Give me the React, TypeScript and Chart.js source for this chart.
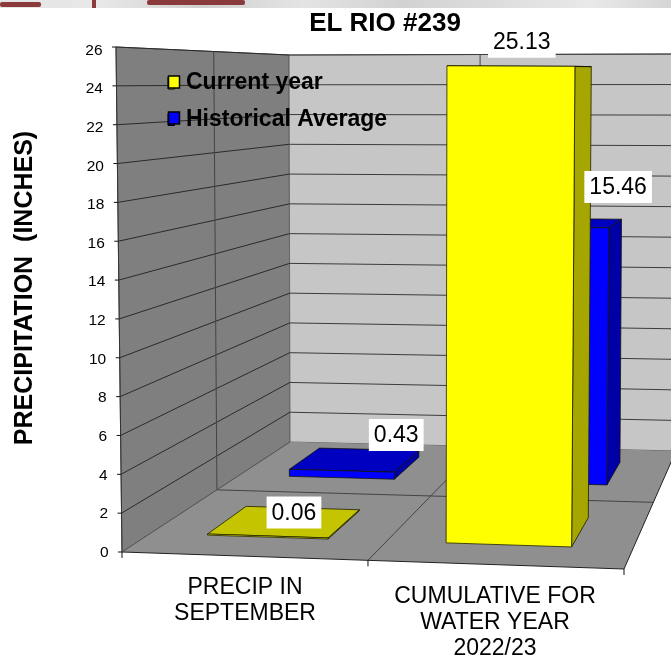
import React, { useEffect, useRef } from "react";
import { Chart, registerables, BarController } from "chart.js";

const categories = [["PRECIP IN", "SEPTEMBER"], ["CUMULATIVE FOR", "WATER YEAR", "2022/23"]];
const currentYear = [0.06, 25.13];
const historicalAverage = [0.43, 15.46];
const seriesNames = ["Current year", "Historical Average"];
const chartTitle = "EL RIO #239";
const yAxisTitle = "PRECIPITATION  (INCHES)";
const yMax = 26;
const yStep = 2;

// Projection of the 3D plot box: [x, y] of each corner
const FLB = [122, 552], FRB = [624, 569], BLB = [290, 442], BRB = [676, 451];
const FLT = [116, 47], FRT = [629, 49], BLT = [289, 55], BRT = [679, 54];
const MID_DEPTH = 0.565;
const MID_WIDTH = 0.49;

const lerp = (a: number, b: number, t: number) => a + (b - a) * t;
const bil = (a: number[], b: number[], c: number[], d: number[], u: number, w: number) => [
  lerp(lerp(a[0], b[0], u), lerp(c[0], d[0], u), w),
  lerp(lerp(a[1], b[1], u), lerp(c[1], d[1], u), w),
];
const project = (u: number, d: number, v: number) => {
  const b = bil(FLB, FRB, BLB, BRB, u, d);
  const t = bil(FLT, FRT, BLT, BRT, u, d);
  return [lerp(b[0], t[0], v / yMax), lerp(b[1], t[1], v / yMax)];
};
const warpU = (u: number) => (u * 0.96) / (1 - u + u * 0.96);

function poly(ctx: any, pts: number[][], fill: string | null, stroke: string | null, lw = 1) {
  ctx.beginPath();
  pts.forEach((p, i) => (i ? ctx.lineTo(p[0], p[1]) : ctx.moveTo(p[0], p[1])));
  ctx.closePath();
  if (fill) { ctx.fillStyle = fill; ctx.fill(); }
  if (stroke) { ctx.strokeStyle = stroke; ctx.lineWidth = lw; ctx.stroke(); }
}
function seg(ctx: any, a: number[], b: number[], stroke: string, lw = 1) {
  ctx.beginPath();
  ctx.moveTo(a[0], a[1]);
  ctx.lineTo(b[0], b[1]);
  ctx.strokeStyle = stroke;
  ctx.lineWidth = lw;
  ctx.stroke();
}

class Bar3DController extends BarController {
  static id = "bar3d";
  static defaults = BarController.defaults;
  static overrides = BarController.overrides;
  draw() {
    const chart: any = this.chart;
    const ctx = chart.ctx;
    const meta: any = this._cachedMeta;
    const ds: any = this.getDataset();
    const area = chart.chartArea;
    const yScale = chart.scales.y;
    meta.data.forEach((el: any) => {
      const u0 = warpU((el.x - el.width / 2 - area.left) / area.width);
      const u1 = warpU((el.x + el.width / 2 - area.left) / area.width);
      const v = yScale.getValueForPixel(el.y);
      const b = yScale.getValueForPixel(el.base);
      const [d0, d1] = ds.depth;
      const p = (u: number, d: number, val: number) => project(u, d, val);
      const line = "rgba(20,20,0,0.75)";
      poly(ctx, [p(u1, d0, b), p(u1, d1, b), p(u1, d1, v), p(u1, d0, v)], ds.sideColor, line);
      poly(ctx, [p(u0, d0, v), p(u1, d0, v), p(u1, d1, v), p(u0, d1, v)], ds.topColor, line);
      poly(ctx, [p(u0, d0, b), p(u1, d0, b), p(u1, d0, v), p(u0, d0, v)], ds.backgroundColor, line);
    });
  }
}

Chart.register(...registerables, Bar3DController);

const labelOffsets = [
  [[9, -9.5], [1, -24.5]],
  [[41, -25], [57, -36]],
];

const box3dPlugin = {
  id: "box3dWalls",
  afterLayout(chart: any) {
    const t = chart.titleBlock;
    t.left += 73; t.right += 73;
    const lg = chart.legend;
    lg.left = 168 - 13.5;
    lg.top = 58;
  },
  beforeDraw(chart: any) {
    const ctx = chart.ctx;
    const yS = chart.scales.y, xS = chart.scales.x;
    ctx.save();
    ctx.lineCap = "butt";
    // walls and floor
    poly(ctx, [project(0, 0, 0), project(0, 1, 0), project(0, 1, yMax), project(0, 0, yMax)], "#7f7f7f", "#555");
    poly(ctx, [project(0, 1, 0), project(1, 1, 0), project(1, 1, yMax), project(0, 1, yMax)], "#c6c6c6", "#666");
    poly(ctx, [project(0, 0, 0), project(1, 0, 0), project(1, 1, 0), project(0, 1, 0)], "#8f8f8f", null);
    // grid from the value scale
    yS.ticks.forEach((t: any) => {
      if (t.value === 0) return;
      seg(ctx, project(0, 0, t.value), project(0, 1, t.value), "#2a2a2a");
      seg(ctx, project(0, 1, t.value), project(1, 1, t.value), "#3c3c3c");
    });
    // depth and category dividers
    seg(ctx, project(0, MID_DEPTH, 0), project(0, MID_DEPTH, yMax), "#444");
    seg(ctx, project(MID_WIDTH, 1, 0), project(MID_WIDTH, 1, yMax), "#444");
    seg(ctx, project(0, MID_DEPTH, 0), project(1, MID_DEPTH, 0), "#444");
    seg(ctx, project(MID_WIDTH, 0, 0), project(MID_WIDTH, 1, 0), "#444");
    // floor outline
    seg(ctx, project(0, 0, 0), project(1, 0, 0), "#222");
    seg(ctx, project(1, 0, 0), project(1, 1, 0), "#222");
    seg(ctx, project(0, 0, 0), project(0, 1, 0), "#555");
    // y axis + ticks
    seg(ctx, project(0, 0, 0), project(0, 0, yMax), "#333");
    yS.ticks.forEach((t: any) => {
      const a = project(0, 0, t.value);
      seg(ctx, [a[0] - 4, a[1]], a, "#111");
    });
    // x ticks
    [0, MID_WIDTH, 1].forEach((u) => {
      const a = project(u, 0, 0);
      seg(ctx, a, [a[0], a[1] + 6], "#111");
    });
    // axis title
    ctx.translate(25, 288);
    ctx.rotate(-Math.PI / 2);
    ctx.fillStyle = "#000";
    ctx.font = "bold 25px 'Liberation Sans'";
    ctx.textAlign = "center";
    ctx.textBaseline = "middle";
    ctx.fillText(yAxisTitle, 0, 0);
    ctx.restore();
    // tick labels follow the slanted axis
    yS.getLabelItems(chart.chartArea).forEach((it: any, i: number) => {
      const v = yS.ticks[i].value;
      const a = project(0, 0, v);
      it.options.translation = [a[0] - 13.5, a[1] + 3 * (v / yMax) + 0.5];
    });
    const labelX = [245, 495];
    const labelY = [575, 584];
    xS.getLabelItems(chart.chartArea).forEach((it: any, i: number) => {
      it.options.translation = [labelX[i], labelY[i]];
    });
  },
  beforeDatasetsDraw(chart: any) {
    // full square legend keys (the native key is narrowed to set the text gap)
    const ctx = chart.ctx;
    const lg = chart.legend;
    lg.legendItems.forEach((item: any, i: number) => {
      const y = 76 + i * 36;
      ctx.fillStyle = item.fillStyle;
      ctx.strokeStyle = "#000";
      ctx.lineWidth = 1.5;
      ctx.fillRect(168.5, y, 11, 12);
      ctx.strokeRect(168.5, y, 11, 12);
    });
  },
  afterDatasetsDraw(chart: any) {
    const ctx = chart.ctx;
    const area = chart.chartArea;
    ctx.save();
    ctx.font = "23px 'Liberation Sans'";
    ctx.textAlign = "center";
    ctx.textBaseline = "middle";
    [1, 0].forEach((s) => {
      const meta = chart.getDatasetMeta(s);
      const ds: any = chart.data.datasets[s];
      meta.data.forEach((el: any, i: number) => {
        const u = warpU((el.x - area.left) / area.width);
        const d = (ds.depth[0] + ds.depth[1]) / 2;
        const val = ds.data[i];
        const a = project(u, d, val);
        const off = labelOffsets[s === 0 ? 0 : 1][i];
        const x = a[0] + off[0];
        const y = a[1] + off[1];
        const text = val.toFixed(2);
        const w = ctx.measureText(text).width + 10;
        ctx.fillStyle = "#fff";
        ctx.fillRect(x - w / 2, y - 16, w, 32);
        ctx.fillStyle = "#000";
        ctx.fillText(text, x, y + 1);
      });
    });
    ctx.restore();
  },
};

export default function App() {
  const ref = useRef<HTMLCanvasElement>(null);
  useEffect(() => {
    const chart = new Chart(ref.current as any, {
      type: "bar3d" as any,
      data: {
        labels: categories as any,
        datasets: [
          {
            label: seriesNames[0],
            data: currentYear,
            backgroundColor: "#ffff00",
            borderColor: "#000",
            borderWidth: 1,
            sideColor: "#a6a600",
            topColor: "#c4c400",
            depth: [0.17, 0.42],
            clip: false,
          } as any,
          {
            label: seriesNames[1],
            data: historicalAverage,
            backgroundColor: "#0000ff",
            borderColor: "#000",
            borderWidth: 1,
            sideColor: "#0000a6",
            topColor: "#0000c0",
            depth: [0.7, 0.895],
            clip: false,
          } as any,
        ],
      },
      options: {
        responsive: false,
        animation: false,
        layout: { padding: { left: 0, right: 47, top: 0, bottom: 0 } },
        datasets: { bar3d: { grouped: false, barPercentage: 0.51, categoryPercentage: 1 } } as any,
        plugins: {
          tooltip: { enabled: false },
          title: {
            display: true,
            text: chartTitle,
            color: "#000",
            font: { family: "'Liberation Sans'", size: 26, weight: "bold", lineHeight: 1.2 },
            padding: { top: 8, bottom: 7.8 },
          },
          legend: {
            position: "chartArea" as any,
            align: "start",
            labels: {
              boxWidth: 6.5,
              boxHeight: 12,
              padding: 13.5,
              color: "#000",
              font: { family: "'Liberation Sans'", size: 23, weight: "bold" },
            },
          },
        },
        scales: {
          x: {
            type: "category",
            grid: { display: false, drawTicks: false },
            border: { display: false },
            ticks: {
              color: "#000",
              autoSkip: false,
              maxRotation: 0,
              minRotation: 0,
              font: { family: "'Liberation Sans'", size: 23, lineHeight: 1.13 },
            },
            afterFit(s: any) { s.height = 104; },
          },
          y: {
            type: "linear",
            min: 0,
            max: yMax,
            grid: { display: false, drawTicks: false },
            border: { display: false },
            ticks: {
              stepSize: yStep,
              color: "#000",
              font: { family: "'Liberation Sans'", size: 15.5 },
            },
            afterFit(s: any) { s.width = 122; },
          },
        },
      },
      plugins: [box3dPlugin],
    } as any);
    return () => chart.destroy();
  }, []);
  return (
    <div style={{ position: "absolute", left: 0, top: 0, width: 671, height: 656, background: "#fff", overflow: "hidden" }}>
      <canvas ref={ref} width={671} height={656} style={{ display: "block" }} />
      <div style={{ position: "absolute", left: 0, top: 0, width: 671, height: 8, background: "linear-gradient(90deg,#e4e4e4,#e8e8e8 15%,#cfcfcf 30%,#e4e4e4 45%,#d2d2d2 60%,#dedede 75%,#e9e9e9 88%,#d5d5d5)" }} />
      <div style={{ position: "absolute", left: 0, top: 2, width: 41, height: 5, borderRadius: 2, background: "#8a3a3a" }} />
      <div style={{ position: "absolute", left: 92, top: 0, width: 4, height: 8, background: "#8a3a3a" }} />
      <div style={{ position: "absolute", left: 147, top: 0, width: 98, height: 5, borderRadius: 2, background: "#8a3a3a" }} />
    </div>
  );
}
